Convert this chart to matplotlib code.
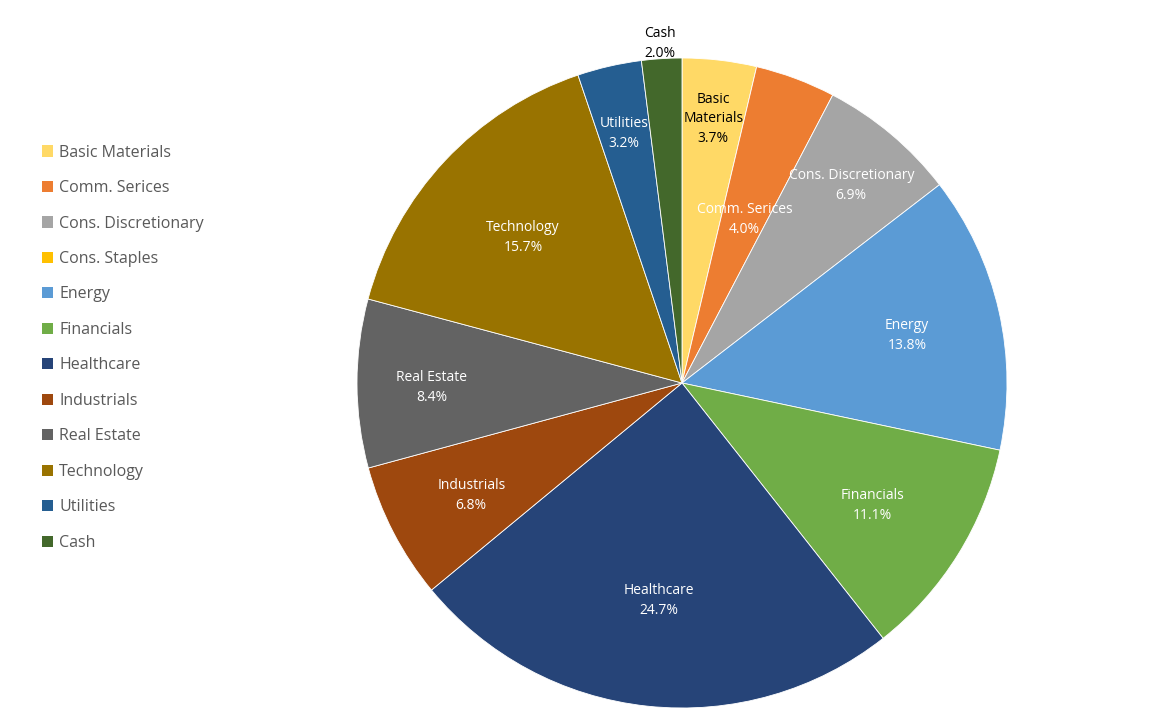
import matplotlib.pyplot as plt
import numpy as np
from matplotlib.patches import Patch

sectors = ["Basic Materials", "Comm. Serices", "Cons. Discretionary", "Cons. Staples",
           "Energy", "Financials", "Healthcare", "Industrials", "Real Estate",
           "Technology", "Utilities", "Cash"]
weights = [3.7, 4.0, 6.9, 0.0, 13.8, 11.1, 24.7, 6.8, 8.4, 15.7, 3.2, 2.0]
label_text = ["Basic\nMaterials", "Comm. Serices", "Cons. Discretionary", "Cons. Staples",
              "Energy", "Financials", "Healthcare", "Industrials", "Real Estate",
              "Technology", "Utilities", "Cash"]

colors = ["#FFD966", "#ED7D31", "#A5A5A5", "#FFC000", "#5B9BD5", "#70AD47",
          "#264478", "#9E480E", "#636363", "#997300", "#255E91", "#43682B"]
text_colors = ["black", "white", "white", "white", "white", "white",
               "white", "white", "white", "white", "white", "black"]
# radial position of each data label (fraction of radius)
label_r = [0.83, 0.55, 0.81, 0.7, 0.71, 0.69, 0.66, 0.73, 0.77, 0.67, 0.80, 1.06]

plt.rcParams["font.family"] = ["Open Sans", "DejaVu Sans"]

fig = plt.figure(figsize=(11.75, 7.12), dpi=100)
cx, cy, rad = 682, 383, 325
ax = fig.add_axes([(cx - rad) / 1175, (712 - cy - rad) / 712, 2 * rad / 1175, 2 * rad / 712])

idx = [i for i, w in enumerate(weights) if w > 0]
wedges, _ = ax.pie([weights[i] for i in idx], colors=[colors[i] for i in idx],
                   startangle=90, counterclock=False, radius=1,
                   wedgeprops=dict(edgecolor="white", linewidth=0.6))

for w, i in zip(wedges, idx):
    mid = np.deg2rad((w.theta1 + w.theta2) / 2)
    r = label_r[i]
    ax.text(r * np.cos(mid), r * np.sin(mid) - 0.012, f"{label_text[i]}\n{weights[i]:.1f}%",
            ha="center", va="center", fontsize=10, color=text_colors[i],
            linespacing=1.45)

ax.set_xlim(-1, 1)
ax.set_ylim(-1, 1)
ax.set_aspect("equal")
ax.axis("off")

handles = [Patch(facecolor=c, edgecolor="none") for c in colors]
fig.legend(handles, sectors, loc="upper left", bbox_to_anchor=(0.0355, 0.797),
           frameon=False, fontsize=11.5, labelcolor="#595959",
           handlelength=0.7, handleheight=0.7, handletextpad=0.4,
           labelspacing=1.22, borderpad=0, borderaxespad=0)

fig.savefig("out.png", dpi=100, facecolor="white")
